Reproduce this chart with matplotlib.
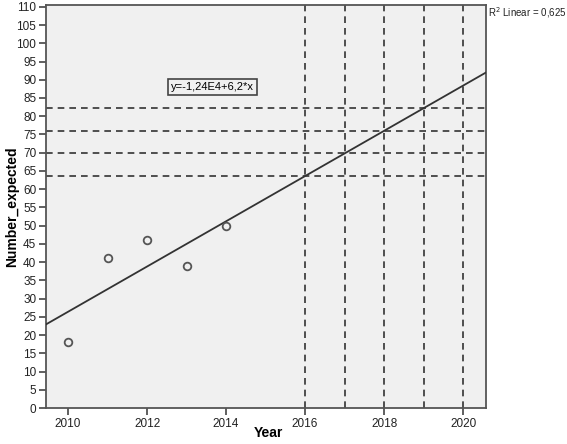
import matplotlib
matplotlib.use("Agg")
import matplotlib.pyplot as plt
import numpy as np

years = [2010, 2011, 2012, 2013, 2014]
number_expected = [18, 41, 46, 39, 50]
forecast_years = [2016, 2017, 2018, 2019, 2020]
x_ticks = [2010, 2012, 2014, 2016, 2018, 2020]
y_ticks = list(range(0, 111, 5))
equation_label = "y=-1,24E4+6,2*x"
r2_label = "R$^2$ Linear = 0,625"

plt.rcParams['font.family'] = ['Liberation Sans', 'DejaVu Sans']

fig = plt.figure(figsize=(5.67, 4.44), dpi=100)
ax = fig.add_axes([46/567, 36/444, 440/567, 403/444])
ax.set_facecolor('#f0f0f0')

x = np.array(years, dtype=float)
y = np.array(number_expected, dtype=float)
slope, intercept = np.polyfit(x, y, 1)

xmin, xmax = 2009.44, 2020.58
ax.set_xlim(xmin, xmax)
ax.set_ylim(0, 110.5)

xs = np.array([xmin, xmax])
ax.plot(xs, intercept + slope * xs, color='#333333', lw=1.3, zorder=3)

for fy in forecast_years:
    ax.axvline(fy, color='#333333', lw=1.2, ls=(0, (4, 3)), zorder=2)
for fy in forecast_years[:4]:
    ax.axhline(intercept + slope * fy, color='#333333', lw=1.2, ls=(0, (4, 3)), zorder=2)

ax.plot(x, y, ls='none', marker='o', ms=5.5, mfc='none', mec='#555555', mew=1.3, zorder=4)

ax.text(2012.6, 88, equation_label, fontsize=8, ha='left', va='center', zorder=5,
        bbox=dict(boxstyle='square,pad=0.25', fc='#f0f0f0', ec='#444444', lw=1.2))

ax.set_xticks(x_ticks)
ax.set_yticks(y_ticks)
ax.tick_params(direction='out', length=5, width=1.2, color='#444444', labelsize=8.5, labelcolor='#222222', pad=2)
for s in ax.spines.values():
    s.set_color('#555555')
    s.set_linewidth(1.3)

fig.text(268/567, 1 - 433/444, 'Year', fontsize=10, fontweight='bold', ha='center', va='center')
fig.text(12/567, 1 - 207/444, 'Number_expected', fontsize=10, fontweight='bold', ha='center', va='center', rotation=90)

fig.text(488/567, 1 - 13/444, r2_label, fontsize=7, ha='left', va='center', color='#222222')

fig.savefig('out.png', dpi=100)
